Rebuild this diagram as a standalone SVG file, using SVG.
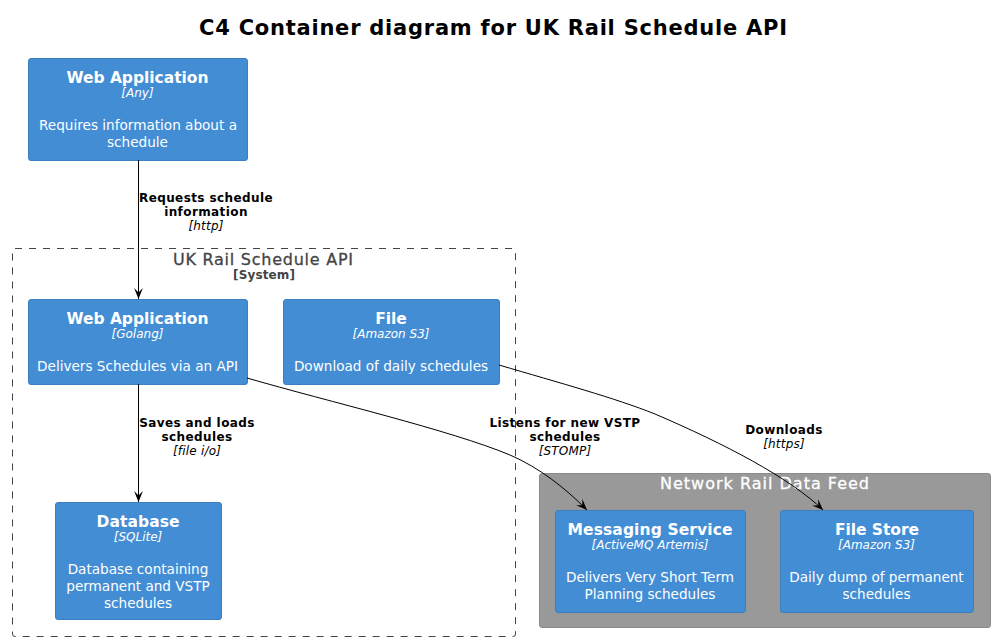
<svg xmlns="http://www.w3.org/2000/svg" width="995" height="641" viewBox="0 0 995 641">
<defs>
<style>
text{font-family:"DejaVu Sans",sans-serif;text-anchor:middle}
.node{fill:#438DD5;stroke:#3C7FC0;stroke-width:1}
.nt{font-size:15.5px;font-weight:bold;fill:#FFFFFF}
.ntech{font-size:12px;font-style:italic;fill:#FFFFFF}
.nd{font-size:13.6px;fill:#FFFFFF}
.el{font-size:12px;font-weight:bold;fill:#000000;letter-spacing:0.4px}
.et{font-size:12px;font-style:italic;fill:#000000;letter-spacing:0.2px}
.edge{fill:none;stroke:#000000;stroke-width:1}
</style>
<marker id="arr" viewBox="0 0 10 10" refX="10" refY="5" markerWidth="11" markerHeight="11" markerUnits="userSpaceOnUse" orient="auto">
<path d="M0,1 L10,5 L0,9 L4,5 Z" fill="#000000"/>
</marker>
</defs>
<rect width="995" height="641" fill="#FFFFFF"/>
<text x="493" y="35" style="font-size:21px;font-weight:bold" fill="#000000" textLength="588" lengthAdjust="spacing">C4 Container diagram for UK Rail Schedule API</text>

<g id="boundary-system">
<rect x="12.5" y="248.5" width="503" height="388" rx="2.5" fill="none" stroke="#444444" stroke-dasharray="7,7"/>
<text x="263" y="265" style="font-size:16px" fill="#444444" stroke="#444444" stroke-width="0.3" textLength="180" lengthAdjust="spacing">UK Rail Schedule API</text>
<text x="264" y="279" style="font-size:12px;font-weight:bold" fill="#444444" textLength="62" lengthAdjust="spacing">[System]</text>
</g>

<g id="boundary-nrdf">
<rect x="539.5" y="473.5" width="451" height="154" rx="2.5" fill="#999999" stroke="#8A8A8A"/>
<text x="764.5" y="489" style="font-size:16px" fill="#FFFFFF" stroke="#FFFFFF" stroke-width="0.3" textLength="209" lengthAdjust="spacing">Network Rail Data Feed</text>
</g>

<g id="web-client">
<rect class="node" x="28.5" y="58.5" width="219" height="102" rx="2.5"/>
<text class="nt" x="137.5" y="83" textLength="142" lengthAdjust="spacing">Web Application</text>
<text class="ntech" x="137.5" y="97">[Any]</text>
<text class="nd" x="138" y="130">Requires information about a</text>
<text class="nd" x="137.5" y="147">schedule</text>
</g>

<g id="web-app">
<rect class="node" x="28.5" y="299.5" width="219" height="85" rx="2.5"/>
<text class="nt" x="137.5" y="324" textLength="142" lengthAdjust="spacing">Web Application</text>
<text class="ntech" x="137.5" y="338">[Golang]</text>
<text class="nd" x="137.5" y="371">Delivers Schedules via an API</text>
</g>

<g id="file">
<rect class="node" x="283.5" y="299.5" width="216" height="85" rx="2.5"/>
<text class="nt" x="391" y="324">File</text>
<text class="ntech" x="391" y="338">[Amazon S3]</text>
<text class="nd" x="391" y="371">Download of daily schedules</text>
</g>

<g id="database">
<rect class="node" x="55.5" y="502.5" width="166" height="117" rx="2.5"/>
<text class="nt" x="138" y="527" textLength="83" lengthAdjust="spacing">Database</text>
<text class="ntech" x="138" y="541">[SQLite]</text>
<text class="nd" x="138" y="574">Database containing</text>
<text class="nd" x="138" y="591">permanent and VSTP</text>
<text class="nd" x="138" y="608">schedules</text>
</g>

<g id="messaging">
<rect class="node" x="555.5" y="510.5" width="190" height="102" rx="2.5"/>
<text class="nt" x="650" y="535" textLength="165" lengthAdjust="spacing">Messaging Service</text>
<text class="ntech" x="650" y="549">[ActiveMQ Artemis]</text>
<text class="nd" x="650" y="582">Delivers Very Short Term</text>
<text class="nd" x="650" y="599">Planning schedules</text>
</g>

<g id="file-store">
<rect class="node" x="780.5" y="510.5" width="193" height="102" rx="2.5"/>
<text class="nt" x="877" y="535" textLength="84" lengthAdjust="spacing">File Store</text>
<text class="ntech" x="876.5" y="549">[Amazon S3]</text>
<text class="nd" x="876.5" y="582">Daily dump of permanent</text>
<text class="nd" x="876.5" y="599">schedules</text>
</g>

<g id="connectors">
<path class="edge" d="M138.5,160 L138.5,299" marker-end="url(#arr)"/>
<text class="el" x="206" y="202">Requests schedule</text>
<text class="el" x="206" y="216">information</text>
<text class="et" x="206" y="230">[http]</text>

<path class="edge" d="M138.5,384 L138.5,502" marker-end="url(#arr)"/>
<text class="el" x="197" y="427">Saves and loads</text>
<text class="el" x="197" y="441">schedules</text>
<text class="et" x="197" y="455">[file i/o]</text>

<path class="edge" d="M247,378 C330,402 450,430 510,455 C540,468 565,488 587,510" marker-end="url(#arr)"/>
<text class="el" x="565" y="427">Listens for new VSTP</text>
<text class="el" x="565" y="441">schedules</text>
<text class="et" x="565" y="455">[STOMP]</text>

<path class="edge" d="M499,365 C560,383 615,398 655,414 C725,444 790,478 823,510" marker-end="url(#arr)"/>
<text class="el" x="784" y="434">Downloads</text>
<text class="et" x="784" y="448">[https]</text>
</g>
</svg>
